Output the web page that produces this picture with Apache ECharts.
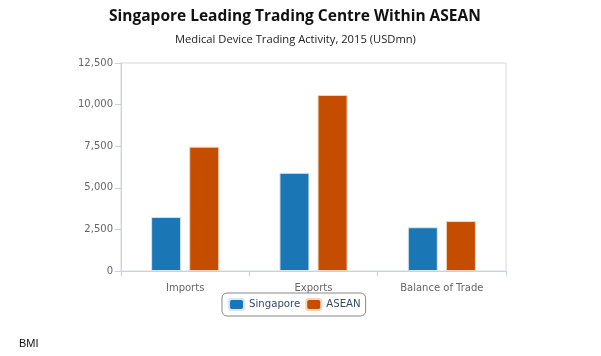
<!DOCTYPE html>
<html><head><meta charset="utf-8">
<script src="https://cdn.jsdelivr.net/npm/echarts@6/dist/echarts.min.js"></script>
<style>html,body{margin:0;padding:0;background:#fff}#c{width:601px;height:356px}</style>
</head><body><div id="c"></div>
<script>
var categories = ["Imports", "Exports", "Balance of Trade"];
var singapore = [3250, 5900, 2630];
var asean = [7470, 10580, 3000];
var yTicks = [0, 2500, 5000, 7500, 10000, 12500];
var yTickLabels = ["0", "2,500", "5,000", "7,500", "10,000", "12,500"];

function fmt(v) {
  var i = yTicks.indexOf(v);
  return i >= 0 ? yTickLabels[i] : String(v);
}

var chart = echarts.init(document.getElementById('c'), null, {renderer: 'canvas'});
chart.setOption({
  animation: false,
  backgroundColor: '#fff',
  title: [
    {text: 'Singapore Leading Trading Centre Within ASEAN', left: 104, top: 4,
     textStyle: {fontFamily: 'Open Sans', fontWeight: 'bold', fontSize: 15.5, color: '#111'}},
    {text: 'Medical Device Trading Activity, 2015 (USDmn)', left: 170, top: 29,
     textStyle: {fontFamily: 'Open Sans', fontWeight: 'normal', fontSize: 11.2, color: '#222'}},
    {text: 'BMI', left: 14, top: 333,
     textStyle: {fontFamily: 'Liberation Sans', fontWeight: 'normal', fontSize: 11, color: '#111'}}
  ],
  grid: {left: 121, right: 95, top: 63, bottom: 85, show: true, borderColor: '#d8d8d8', borderWidth: 1},
  legend: {
    data: ['Singapore', 'ASEAN'], left: 222, top: 293, itemWidth: 15, itemHeight: 11, itemGap: 5,
    padding: [5, 5, 5, 6], borderColor: '#888', borderWidth: 1, borderRadius: 5,
    icon: 'roundRect',
    textStyle: {fontFamily: 'DejaVu Sans Condensed', fontSize: 11.3, color: '#3b4a66'}
  },
  xAxis: {
    type: 'category', data: categories,
    axisLine: {lineStyle: {color: '#c5d3e3'}},
    axisTick: {show: true, length: 5, lineStyle: {color: '#c5d3e3'}},
    axisLabel: {fontFamily: 'DejaVu Sans', fontSize: 10, color: '#666', margin: 12}
  },
  yAxis: {
    type: 'value', min: yTicks[0], max: yTicks[yTicks.length - 1], interval: 2500,
    axisLine: {show: true, lineStyle: {color: '#c5d3e3'}},
    axisTick: {show: true, length: 6, lineStyle: {color: '#c5d3e3'}},
    splitLine: {show: false},
    axisLabel: {fontFamily: 'DejaVu Sans', fontSize: 10, color: '#666', margin: 8, formatter: fmt, showMaxLabel: true}
  },
  series: [
    {name: 'Singapore', type: 'bar', data: singapore, barWidth: 30, barGap: '27%',
     itemStyle: {color: '#1a76b4', borderColor: '#d6e6f2', borderWidth: 1}},
    {name: 'ASEAN', type: 'bar', data: asean, barWidth: 30,
     itemStyle: {color: '#c44d00', borderColor: '#f0d4c0', borderWidth: 1}}
  ]
});
</script></body></html>
